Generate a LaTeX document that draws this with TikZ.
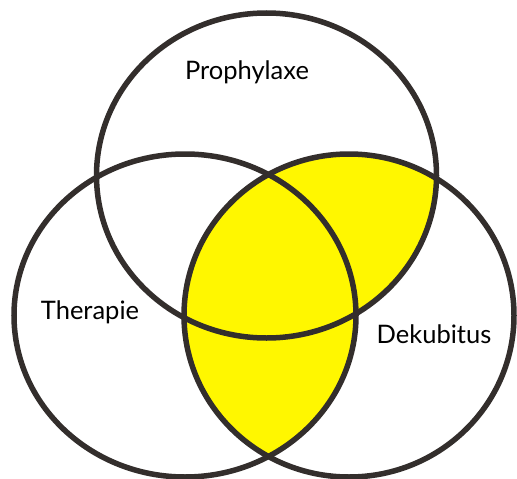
\documentclass[tikz,border=0pt]{standalone}
\usepackage{fontspec}
\setmainfont{Lato}
\definecolor{ring}{HTML}{332E2C}
\definecolor{hl}{HTML}{FFF700}
\begin{document}
\begin{tikzpicture}[x=1pt,y=-1pt,
  ring/.style={draw=ring,line width=5.5pt},
  lbl/.style={font=\fontsize{25.5}{29}\selectfont,anchor=base,inner sep=0pt,text=black}]
\useasboundingbox (0,0) rectangle (517,479);
\begin{scope}
  \clip (349,315.5) ellipse [x radius=165, y radius=161.5];
  \fill[hl] (266.5,175.5) ellipse [x radius=170, y radius=162.5];
  \fill[hl] (185,315.5) ellipse [x radius=171, y radius=161.5];
\end{scope}
\draw[ring] (266.5,175.5) ellipse [x radius=170, y radius=162.5];
\draw[ring] (185,315.5) ellipse [x radius=171, y radius=161.5];
\draw[ring] (349,315.5) ellipse [x radius=165, y radius=161.5];
\node[lbl] (p) at (247,79) {Prophylaxe};
\node[lbl] (t) at (90,319) {Therapie};
\node[lbl] (d) at (434,343) {Dekubitus};
\end{tikzpicture}
\end{document}
